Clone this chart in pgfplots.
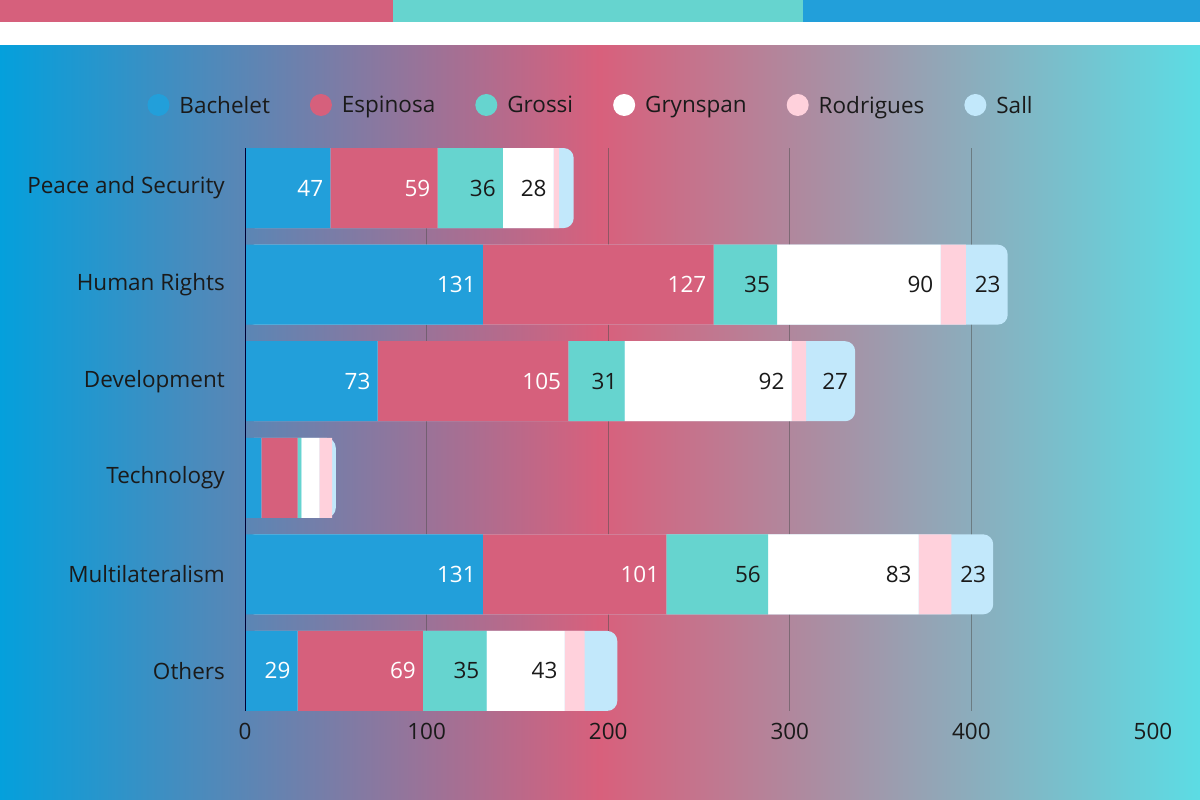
\documentclass[border=0pt]{standalone}
\usepackage{pgfplots}
\pgfplotsset{compat=1.18}
\usepackage{pgfplotstable}
\usepackage{fontspec}
\setmainfont{Open Sans}
\definecolor{cBach}{HTML}{229FDA}
\definecolor{cEsp}{HTML}{D6607C}
\definecolor{cGro}{HTML}{66D4CF}
\definecolor{cGry}{HTML}{FFFFFF}
\definecolor{cRod}{HTML}{FFD1DC}
\definecolor{cSall}{HTML}{C2E8FB}
\definecolor{gL}{HTML}{04A0DC}
\definecolor{gM}{HTML}{D8607C}
\definecolor{gR}{HTML}{5CDCE4}
\definecolor{txt}{HTML}{1A1A1A}
\newcommand\cf{\fontsize{22.5bp}{26bp}\selectfont}

\pgfplotstableread{
y Bach Esp Gro Gry Rod Sall Tot LBach LEsp LGro LGry LRod LSall
0 47 59 36 28 3 8 181 47 59 36 28 {} {}
1 131 127 35 90 14 23 420 131 127 35 90 {} 23
2 73 105 31 92 8 27 336 73 105 31 92 {} 27
3 9 20 2 10 7 2 50 {} {} {} {} {} {}
4 131 101 56 83 18 23 412 131 101 56 83 {} 23
5 29 69 35 43 11 18 205 29 69 35 43 {} {}
}\data

\pgfplotsset{
  common/.style={
    at={(245bp,89bp)}, anchor=south west,
    scale only axis, width=908bp, height=563bp,
    xmin=0, xmax=500, ymin=-0.415, ymax=5.415, y dir=reverse,
    major tick length=0,
    /pgf/number format/assume math mode=true,
  },
  seg/.style={
    visualization depends on={\thisrow{#1} \as \segw},
    every node near coord/.append style={xshift={\segw*0.908bp-7bp}},
  },
}

\begin{document}
\begin{tikzpicture}
\useasboundingbox (0,0) rectangle (1200bp,800bp);
\shade[left color=gL, right color=gR, middle color=gM] (0,0) rectangle (1200bp,755bp);
\fill[white] (0,755bp) rectangle (1200bp,778bp);
\fill[cEsp] (0,778bp) rectangle (393bp,800bp);
\fill[cGro] (393bp,778bp) rectangle (803bp,800bp);
\fill[cBach] (803bp,778bp) rectangle (1200bp,800bp);

\begin{axis}[common,
  axis line style={draw=none},
  xtick={0,100,...,500},
  ytick={0,...,5},
  yticklabels={Peace and Security, Human Rights, Development, Technology, Multilateralism, Others},
  ticklabel style={font=\cf, text=txt, inner sep=0pt},
  yticklabel style={anchor=east, xshift=-20bp},
  xticklabel style={anchor=north, yshift=-12bp},
  extra x ticks={100,200,300,400},
  extra x tick labels={},
  extra x tick style={grid=major},
  grid style={black!70, opacity=0.5, line width=1bp},
  xbar, bar width=80bp,
  legend columns=6,
  legend style={at={(axis description cs:0.38,1.0764)}, anchor=center,
    draw=none, fill=none, font=\cf, text=txt, inner sep=0pt,
    nodes={inner sep=0pt},
    /tikz/every even column/.append style={column sep=40bp}},
  legend image code/.code={\path[draw=none, fill=none] (0bp,0bp) rectangle (32bp,1bp); \fill[#1, draw=none] (11bp,0.5bp) circle (11bp);},
]
\addplot[fill=cSall, draw=none, rounded corners=10bp, bar shift=0pt, forget plot] table[x=Tot, y=y]{\data};
\addlegendimage{fill=cBach, draw=none}
\addlegendentry{Bachelet}
\addlegendimage{fill=cEsp, draw=none}
\addlegendentry{Espinosa}
\addlegendimage{fill=cGro, draw=none}
\addlegendentry{Grossi}
\addlegendimage{fill=cGry, draw=none}
\addlegendentry{Grynspan}
\addlegendimage{fill=cRod, draw=none}
\addlegendentry{Rodrigues}
\addlegendimage{fill=cSall, draw=none}
\addlegendentry{Sall}
\end{axis}

\begin{axis}[common,
  axis x line=none, axis y line*=left,
  y axis line style={draw=black!80!blue, line width=1bp},
  xtick=\empty, ytick=\empty,
  axis on top,
  xbar stacked, bar width=80bp,
  nodes near coords, point meta=explicit symbolic,
  every node near coord/.append style={anchor=east, font=\cf, inner sep=0pt, text=txt},
]
\addplot[fill=cBach, draw=none, seg=Bach, every node near coord/.append style={text=white}] table[x=Bach, y=y, meta=LBach]{\data};
\addplot[fill=cEsp, draw=none, seg=Esp, every node near coord/.append style={text=white}] table[x=Esp, y=y, meta=LEsp]{\data};
\addplot[fill=cGro, draw=none, seg=Gro] table[x=Gro, y=y, meta=LGro]{\data};
\addplot[fill=cGry, draw=none, seg=Gry] table[x=Gry, y=y, meta=LGry]{\data};
\addplot[fill=cRod, draw=none, seg=Rod] table[x=Rod, y=y, meta=LRod]{\data};
\addplot[fill=none, draw=none, seg=Sall] table[x=Sall, y=y, meta=LSall]{\data};
\end{axis}
\end{tikzpicture}
\end{document}
